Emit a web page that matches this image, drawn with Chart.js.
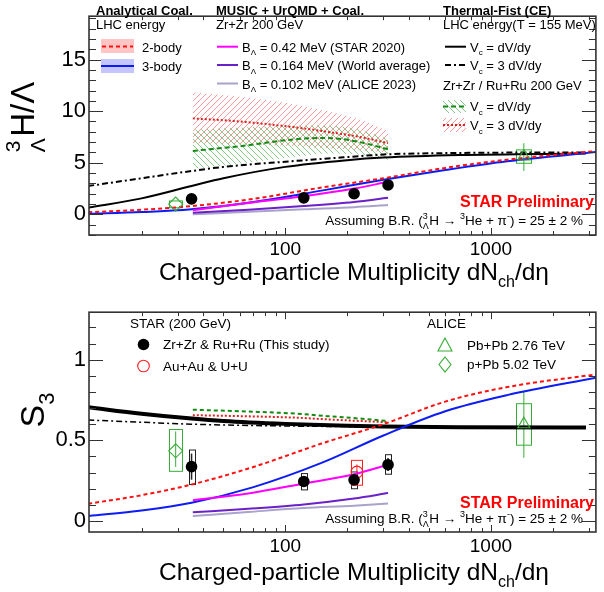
<!DOCTYPE html>
<html>
<head>
<meta charset="utf-8">
<script src="https://cdn.jsdelivr.net/npm/chart.js@4.4.1/dist/chart.umd.min.js"></script>
<style>
  html, body { margin: 0; padding: 0; background: #fff; }
  #wrap { position: relative; width: 604px; height: 592px; }
  .panel { position: absolute; left: 0; width: 604px; height: 296px; }
  #top { top: 0; }
  #bot { top: 296px; }
</style>
</head>
<body>
<div id="wrap">
  <div class="panel" id="top"><canvas id="cTop"></canvas></div>
  <div class="panel" id="bot"><canvas id="cBot"></canvas></div>
</div>
<script>
const FONT = '"Liberation Sans", Arial, Helvetica, sans-serif';

// ---- axes
const X_MIN = 11.1, X_MAX = 3240;
const X_TICKS = [20, 30, 40, 50, 60, 70, 80, 90, 100, 200, 300, 400, 500, 600, 700, 800, 900, 1000, 2000, 3000];
const X_LABELS = [100, 1000];
const TOP_Y_TICKS = [-2, -1, 0, 1, 2, 3, 4, 5, 6, 7, 8, 9, 10, 11, 12, 13, 14, 15, 16, 17, 18, 19];
const TOP_Y_LABELS = [0, 5, 10, 15];
const BOT_Y_TICKS = [0, 0.1, 0.2, 0.3, 0.4, 0.5, 0.6, 0.7, 0.8, 0.9, 1, 1.1, 1.2];
const BOT_Y_LABELS = [0, 0.5, 1];

// ---- STAR data (Zr+Zr & Ru+Ru)
const starX = [35, 123, 216, 316];
const starRatio = [1.5, 1.6, 2.0, 2.85];
const starS3 = [0.337, 0.245, 0.255, 0.349];
const starS3StatLo = [0.256, 0.215, 0.225, 0.31];
const starS3StatHi = [0.418, 0.275, 0.285, 0.39];
const starS3SysLo = [0.226, 0.193, 0.2, 0.29];
const starS3SysHi = [0.44, 0.294, 0.304, 0.411];

// ---- STAR Au+Au & U+U
const auX = [223];
const auS3 = [0.304];
const auS3StatLo = [0.285];
const auS3StatHi = [0.35];
const auS3SysLo = [0.222];
const auS3SysHi = [0.376];

// ---- ALICE
const pbX = [1446];
const pbRatio = [5.6];
const pbRatioStatLo = [4.2], pbRatioStatHi = [6.9];
const pbRatioSysLo = [4.95], pbRatioSysHi = [6.25];
const pbS3 = [0.6];
const pbS3StatLo = [0.392], pbS3StatHi = [0.805];
const pbS3SysLo = [0.47], pbS3SysHi = [0.727];

const ppbX = [29.3];
const ppbRatio = [1.0];
const ppbRatioSysLo = [0.64], ppbRatioSysHi = [1.3];
const ppbS3 = [0.435];
const ppbS3StatLo = [0.335], ppbS3StatHi = [0.555];
const ppbS3SysLo = [0.308], ppbS3SysHi = [0.567];

// ---- Analytical coalescence (LHC energy)
const coalX = [11, 20, 35, 70, 150, 300, 600, 1200, 3300];
const coal2Ratio = [0.2, 0.45, 0.8, 1.5, 2.6, 3.5, 4.5, 5.3, 6.15];
const coal3Ratio = [0.05, 0.22, 0.5, 1.2, 2.3, 3.35, 4.3, 5.15, 6.05];
const coal2S3 = [0.107, 0.16, 0.226, 0.335, 0.48, 0.6, 0.74, 0.83, 0.91];
const coal3S3 = [0.031, 0.065, 0.113, 0.21, 0.36, 0.53, 0.68, 0.78, 0.89];

// ---- MUSIC + UrQMD + Coal. (Zr+Zr 200 GeV)
const musicX = [35.5, 66, 123, 216, 316];
const music042Ratio = [0.4, 1.1, 1.75, 2.5, 3.15];
const music0164Ratio = [0.15, 0.45, 0.8, 1.2, 1.6];
const music0102Ratio = [0.0, 0.25, 0.5, 0.7, 0.9];
const music042S3 = [0.129, 0.171, 0.232, 0.29, 0.349];
const music0164S3 = [0.054, 0.076, 0.103, 0.14, 0.173];
const music0102S3 = [0.031, 0.056, 0.08, 0.095, 0.109];

// ---- Thermal-Fist (CE), LHC energy
const thermX = [11, 20, 35, 50, 100, 200, 300, 700, 2900];
const thermVcRatio = [0.65, 1.55, 2.75, 3.5, 4.6, 5.25, 5.5, 5.75, 5.9];
const therm3VcRatio = [2.75, 3.5, 4.2, 4.6, 5.1, 5.55, 5.8, 5.95, 6.0];
const thermVcS3 = [0.705, 0.665, 0.635, 0.62, 0.602, 0.59, 0.585, 0.581, 0.58];
const therm3VcS3 = [0.626, 0.612, 0.6, 0.595, 0.589, 0.585, 0.583, 0.581, 0.58];

// ---- Thermal-Fist (CE), Zr+Zr / Ru+Ru 200 GeV
const zrX = [35.5, 60, 115, 160, 230, 316];
const zrVcRatio = [6.15, 6.6, 7.3, 7.4, 7.0, 6.3];
const zrVcRatioLo = [4.4, 4.9, 5.6, 5.9, 5.8, 5.3];
const zrVcRatioHi = [8.2, 8.4, 8.6, 8.6, 8.2, 7.3];
const zr3VcRatio = [9.3, 9.0, 8.4, 8.0, 7.5, 6.9];
const zr3VcRatioLo = [6.9, 6.8, 6.6, 6.4, 6.2, 6.0];
const zr3VcRatioHi = [11.8, 11.4, 10.6, 10.0, 9.2, 8.1];
const zrVcS3 = [0.69, 0.68, 0.665, 0.65, 0.635, 0.62];
const zr3VcS3 = [0.656, 0.65, 0.64, 0.63, 0.62, 0.612];

// colours
const RED = '#ff1010', BLUE = '#0c1cf2', MAGENTA = '#ff00ff', PURPLE = '#6a22c8', LAVENDER = '#a9a3cc';
const DKGREEN = '#138a13', GREEN = '#36ad36', DOTRED = '#e02020';

const pts = (xs, ys) => xs.map((x, i) => ({ x, y: ys[i] }));

function hatch(color, dir) {
  const s = 6, c = document.createElement('canvas');
  c.width = s; c.height = s;
  const g = c.getContext('2d');
  g.strokeStyle = color; g.lineWidth = 1;
  g.beginPath();
  if (dir > 0) { g.moveTo(-1, s + 1); g.lineTo(s + 1, -1); }
  else { g.moveTo(-1, -1); g.lineTo(s + 1, s + 1); }
  g.stroke();
  return g.createPattern(c, 'repeat');
}
const greenHatch = hatch('#86c886', -1);
const redHatch = hatch('#f59a9a', 1);

// rich text with sub/superscripts
function drawRich(ctx, x, y, parts, size, opt = {}) {
  const weight = opt.bold ? 'bold ' : '';
  const big = `${weight}${size}px ${FONT}`;
  const small = `${weight}${Math.round(size * 0.64)}px ${FONT}`;
  const segs = [];
  let w = 0;
  for (const p of parts) {
    if (typeof p === 'string') {
      ctx.font = big;
      segs.push({ t: p, f: big, dx: w, dy: 0 });
      w += ctx.measureText(p).width;
    } else if (p.sub || p.sup) {
      ctx.font = small;
      const t = p.sub || p.sup;
      segs.push({ t, f: small, dx: w, dy: p.sub ? size * 0.28 : -size * 0.42 });
      w += ctx.measureText(t).width;
    } else if (p.pre) {
      ctx.font = small;
      const a = ctx.measureText(p.pre[0]).width, b = ctx.measureText(p.pre[1]).width;
      segs.push({ t: p.pre[0], f: small, dx: w, dy: -size * 0.42 });
      segs.push({ t: p.pre[1], f: small, dx: w, dy: size * 0.32 });
      w += Math.max(a, b) + size * 0.04;
    }
  }
  let x0 = x;
  if (opt.align === 'right') x0 = x - w;
  else if (opt.align === 'center') x0 = x - w / 2;
  ctx.save();
  ctx.fillStyle = opt.color || '#000';
  ctx.textAlign = 'left';
  ctx.textBaseline = 'alphabetic';
  segs.forEach(s => { ctx.font = s.f; ctx.fillText(s.t, x0 + s.dx, y + s.dy); });
  ctx.restore();
  return w;
}

function seg(ctx, x1, x2, y, color, width, dash) {
  ctx.save();
  ctx.strokeStyle = color; ctx.lineWidth = width; ctx.setLineDash(dash || []);
  ctx.beginPath(); ctx.moveTo(x1, y); ctx.lineTo(x2, y); ctx.stroke();
  ctx.restore();
}

function box(ctx, x, y, w, h, fill) {
  ctx.save(); ctx.fillStyle = fill; ctx.fillRect(x, y, w, h); ctx.restore();
}

// ROOT style frame with inward ticks on all four sides
const rootFrame = {
  id: 'rootFrame',
  afterDatasetsDraw(chart) {
    const { ctx, chartArea: a, scales: { x, y } } = chart;
    ctx.save();
    ctx.strokeStyle = '#333';
    ctx.lineWidth = 1;
    ctx.beginPath();
    x.ticks.forEach(t => {
      const px = Math.round(x.getPixelForValue(t.value)) + 0.5;
      const len = t.major ? 7 : 4;
      ctx.moveTo(px, a.bottom); ctx.lineTo(px, a.bottom - len);
      ctx.moveTo(px, a.top); ctx.lineTo(px, a.top + len);
    });
    y.ticks.forEach(t => {
      const py = Math.round(y.getPixelForValue(t.value)) + 0.5;
      const len = t.major ? 14 : 7;
      ctx.moveTo(a.left, py); ctx.lineTo(a.left + len, py);
      ctx.moveTo(a.right, py); ctx.lineTo(a.right - len, py);
    });
    ctx.stroke();
    ctx.lineWidth = 1.6;
    ctx.strokeRect(a.left, a.top, a.width, a.height);
    ctx.restore();
  }
};

// systematic boxes and statistical error bars
const errors = {
  id: 'errors',
  beforeDatasetsDraw(chart) {
    const { ctx, scales: { y } } = chart;
    ctx.save();
    chart.data.datasets.forEach((ds, i) => {
      if (!ds.sysLo && !ds.statLo) return;
      const meta = chart.getDatasetMeta(i);
      meta.data.forEach((pt, j) => {
        ctx.strokeStyle = ds.errColor;
        ctx.lineWidth = 1;
        if (ds.sysLo) {
          const y1 = y.getPixelForValue(ds.sysHi[j]), y2 = y.getPixelForValue(ds.sysLo[j]);
          const hw = ds.boxW / 2;
          ctx.strokeRect(Math.round(pt.x - hw) + 0.5, y1, ds.boxW, y2 - y1);
        }
        if (ds.statLo) {
          ctx.lineWidth = ds.statW || 1;
          ctx.beginPath();
          ctx.moveTo(pt.x, y.getPixelForValue(ds.statHi[j]));
          ctx.lineTo(pt.x, y.getPixelForValue(ds.statLo[j]));
          ctx.stroke();
        }
      });
    });
    ctx.restore();
  }
};

function curve(data, color, width, dash, order) {
  return {
    data, borderColor: color, borderWidth: width, borderDash: dash || [],
    pointRadius: 0, fill: false, cubicInterpolationMode: 'monotone', order
  };
}

function band(hi, lo, pattern, order) {
  return [
    { data: hi, borderWidth: 0, pointRadius: 0, fill: '+1', backgroundColor: pattern,
      cubicInterpolationMode: 'monotone', order },
    { data: lo, borderWidth: 0, pointRadius: 0, fill: false,
      cubicInterpolationMode: 'monotone', order }
  ];
}

function marker(data, style, radius, color, filled, order, extra) {
  return Object.assign({
    data, showLine: false, pointStyle: style, pointRadius: radius,
    pointBorderColor: color, pointBackgroundColor: filled ? color : 'rgba(0,0,0,0)',
    pointBorderWidth: filled ? 0 : 1.1, order
  }, extra || {});
}

function axes(yTicks, yLabels, yMin, yMax, xHeight) {
  return {
    x: {
      type: 'logarithmic', min: X_MIN, max: X_MAX,
      grid: { display: false, drawTicks: false }, border: { display: false },
      afterBuildTicks: s => { s.ticks = X_TICKS.map(v => ({ value: v, major: X_LABELS.includes(v) })); },
      ticks: {
        autoSkip: false, maxRotation: 0, minRotation: 0, padding: 3, color: '#000',
        font: { family: FONT, size: 19 },
        callback: v => X_LABELS.includes(v) ? String(v) : ''
      },
      afterFit: s => { s.height = xHeight; }
    },
    y: {
      type: 'linear', min: yMin, max: yMax,
      grid: { display: false, drawTicks: false }, border: { display: false },
      afterBuildTicks: s => { s.ticks = yTicks.map(v => ({ value: v, major: yLabels.includes(v) })); },
      ticks: {
        autoSkip: false, padding: 3, color: '#000',
        font: { family: FONT, size: 22 },
        callback: v => yLabels.includes(v) ? String(v) : ''
      },
      afterFit: s => { s.width = 89; }
    }
  };
}

function xTitle(ctx, y) {
  drawRich(ctx, 354, y, ['Charged-particle Multiplicity dN', { sub: 'ch' }, '/dη'], 24.5, { align: 'center' });
}

const assumeText = ['Assuming B.R. (', { pre: ['3', 'Λ'] }, 'H → ', { sup: '3' }, 'He + π', { sup: '-' }, ') = 25 ± 2 %'];
const LS = 13; // legend text size

// ---- top panel decorations
const decorTop = {
  id: 'decorTop',
  afterDraw(chart) {
    const ctx = chart.ctx;
    // y title
    ctx.save();
    ctx.translate(34, 117);
    ctx.rotate(-Math.PI / 2);
    drawRich(ctx, 0, 0, [{ pre: ['3', 'Λ'] }, 'H/Λ'], 33, { align: 'center' });
    ctx.restore();
    xTitle(ctx, 280);

    // Analytical Coal.
    drawRich(ctx, 96, 15, ['Analytical Coal.'], 13, { bold: true });
    drawRich(ctx, 96, 29, ['LHC energy'], LS);
    box(ctx, 101, 39, 33, 14, '#ffc4c4');
    seg(ctx, 102, 133, 46.5, RED, 2, [4, 3]);
    drawRich(ctx, 142, 51.5, ['2-body'], LS);
    box(ctx, 101, 59, 33, 14, '#c6c6ff');
    seg(ctx, 101, 134, 66, BLUE, 2);
    drawRich(ctx, 142, 71, ['3-body'], LS);

    // MUSIC + UrQMD + Coal.
    drawRich(ctx, 216, 15, ['MUSIC + UrQMD + Coal.'], 13, { bold: true });
    drawRich(ctx, 216, 29, ['Zr+Zr 200 GeV'], LS);
    seg(ctx, 217, 238, 46.7, MAGENTA, 2);
    drawRich(ctx, 242, 51.5, ['B', { sub: 'Λ' }, ' = 0.42 MeV (STAR 2020)'], LS);
    seg(ctx, 217, 238, 65, PURPLE, 2);
    drawRich(ctx, 242, 70, ['B', { sub: 'Λ' }, ' = 0.164 MeV (World average)'], LS);
    seg(ctx, 217, 238, 83.5, LAVENDER, 2);
    drawRich(ctx, 242, 88.5, ['B', { sub: 'Λ' }, ' = 0.102 MeV (ALICE 2023)'], LS);

    // Thermal-Fist
    drawRich(ctx, 443, 15, ['Thermal-Fist (CE)'], 13, { bold: true });
    drawRich(ctx, 443, 29, ['LHC energy(T = 155 MeV)'], LS);
    seg(ctx, 445, 466, 46.7, '#000', 2);
    drawRich(ctx, 470, 51.5, ['V', { sub: 'c' }, ' = dV/dy'], LS);
    seg(ctx, 445, 466, 65, '#000', 2, [6, 3, 2, 3]);
    drawRich(ctx, 470, 70, ['V', { sub: 'c' }, ' = 3 dV/dy'], LS);
    drawRich(ctx, 443, 90, ['Zr+Zr / Ru+Ru 200 GeV'], LS);
    box(ctx, 443, 100, 23, 13, greenHatch);
    seg(ctx, 443, 466, 106.5, DKGREEN, 2, [5, 3]);
    drawRich(ctx, 470, 111, ['V', { sub: 'c' }, ' = dV/dy'], LS);
    box(ctx, 443, 118, 23, 14, redHatch);
    seg(ctx, 443, 466, 125, DOTRED, 2, [2, 2]);
    drawRich(ctx, 470, 130, ['V', { sub: 'c' }, ' = 3 dV/dy'], LS);

    drawRich(ctx, 594, 207, ['STAR Preliminary'], 16, { bold: true, color: '#ff0000', align: 'right' });
    drawRich(ctx, 583, 224.5, assumeText, 13.5, { align: 'right' });
  }
};

// ---- bottom panel decorations
const decorBot = {
  id: 'decorBot',
  afterDraw(chart) {
    const ctx = chart.ctx;
    ctx.save();
    ctx.translate(44, 114);
    ctx.rotate(-Math.PI / 2);
    drawRich(ctx, 0, 0, ['S', { sub: '3' }], 34, { align: 'center' });
    ctx.restore();
    xTitle(ctx, 284);

    drawRich(ctx, 130, 32, ['STAR (200 GeV)'], 13.5);
    ctx.save();
    ctx.fillStyle = '#000';
    ctx.beginPath(); ctx.arc(143.5, 48.5, 5.8, 0, Math.PI * 2); ctx.fill();
    ctx.strokeStyle = '#ff2020'; ctx.lineWidth = 1.1;
    ctx.beginPath(); ctx.arc(143.5, 70, 5.8, 0, Math.PI * 2); ctx.stroke();
    ctx.strokeStyle = GREEN;
    ctx.beginPath(); ctx.moveTo(445, 42); ctx.lineTo(452, 55); ctx.lineTo(438, 55); ctx.closePath(); ctx.stroke();
    ctx.beginPath(); ctx.moveTo(445, 61); ctx.lineTo(451, 68.5); ctx.lineTo(445, 76); ctx.lineTo(439, 68.5); ctx.closePath(); ctx.stroke();
    ctx.restore();
    drawRich(ctx, 163, 53, ['Zr+Zr & Ru+Ru (This study)'], 13.5);
    drawRich(ctx, 163, 75, ['Au+Au & U+U'], 13.5);
    drawRich(ctx, 427, 32, ['ALICE'], 13.5);
    drawRich(ctx, 467, 54, ['Pb+Pb 2.76 TeV'], 13.5);
    drawRich(ctx, 467, 73, ['p+Pb 5.02 TeV'], 13.5);

    drawRich(ctx, 594, 212, ['STAR Preliminary'], 16, { bold: true, color: '#ff0000', align: 'right' });
    drawRich(ctx, 583, 226.5, assumeText, 13.5, { align: 'right' });
  }
};

const baseOptions = (scales, padTop) => ({
  responsive: true,
  maintainAspectRatio: false,
  animation: false,
  devicePixelRatio: 1,
  layout: { padding: { left: 0, right: 3, top: padTop, bottom: 0 } },
  plugins: { legend: { display: false }, tooltip: { enabled: false } },
  scales
});

// ---- top chart: hypertriton / Lambda ratio
new Chart(document.getElementById('cTop'), {
  type: 'line',
  data: {
    datasets: [
      marker(pts(starX, starRatio), 'circle', 5.8, '#000', true, 0),
      marker(pts(pbX, pbRatio), 'triangle', 7, GREEN, false, 1,
        { statLo: pbRatioStatLo, statHi: pbRatioStatHi, sysLo: pbRatioSysLo, sysHi: pbRatioSysHi, boxW: 15, errColor: GREEN }),
      marker(pts(ppbX, ppbRatio), 'rectRot', 7, GREEN, false, 1,
        { sysLo: ppbRatioSysLo, sysHi: ppbRatioSysHi, boxW: 13, errColor: GREEN }),
      curve(pts(musicX, music042Ratio), MAGENTA, 2, null, 2),
      curve(pts(musicX, music0164Ratio), PURPLE, 2, null, 2),
      curve(pts(musicX, music0102Ratio), LAVENDER, 2, null, 2),
      curve(pts(coalX, coal2Ratio), RED, 2, [4, 3], 3),
      curve(pts(coalX, coal3Ratio), BLUE, 2, null, 3),
      curve(pts(thermX, thermVcRatio), '#000', 2, null, 4),
      curve(pts(thermX, therm3VcRatio), '#000', 2, [6, 3, 2, 3], 4),
      curve(pts(zrX, zrVcRatio), DKGREEN, 2, [5, 3], 5),
      curve(pts(zrX, zr3VcRatio), DOTRED, 2, [2, 2], 5),
      ...band(pts(zrX, zrVcRatioHi), pts(zrX, zrVcRatioLo), greenHatch, 7),
      ...band(pts(zrX, zr3VcRatioHi), pts(zrX, zr3VcRatioLo), redHatch, 8)
    ]
  },
  options: baseOptions(axes(TOP_Y_TICKS, TOP_Y_LABELS, -2, 19.2, 61), 2),
  plugins: [errors, rootFrame, decorTop]
});

// ---- bottom chart: strangeness population factor S3
new Chart(document.getElementById('cBot'), {
  type: 'line',
  data: {
    datasets: [
      marker(pts(starX, starS3), 'circle', 5.8, '#000', true, 0,
        { statLo: starS3StatLo, statHi: starS3StatHi, sysLo: starS3SysLo, sysHi: starS3SysHi, boxW: 6, errColor: '#222', statW: 1.5 }),
      marker(pts(auX, auS3), 'circle', 5.8, '#ff2020', false, 0,
        { statLo: auS3StatLo, statHi: auS3StatHi, sysLo: auS3SysLo, sysHi: auS3SysHi, boxW: 11, errColor: '#ff2020' }),
      marker(pts(pbX, pbS3), 'triangle', 7, GREEN, false, 1,
        { statLo: pbS3StatLo, statHi: pbS3StatHi, sysLo: pbS3SysLo, sysHi: pbS3SysHi, boxW: 15, errColor: GREEN }),
      marker(pts(ppbX, ppbS3), 'rectRot', 7, GREEN, false, 1,
        { statLo: ppbS3StatLo, statHi: ppbS3StatHi, sysLo: ppbS3SysLo, sysHi: ppbS3SysHi, boxW: 13, errColor: GREEN }),
      curve(pts(musicX, music042S3), MAGENTA, 2, null, 2),
      curve(pts(musicX, music0164S3), PURPLE, 2, null, 2),
      curve(pts(musicX, music0102S3), LAVENDER, 2, null, 2),
      curve(pts(coalX, coal2S3), RED, 2, [4, 3], 3),
      curve(pts(coalX, coal3S3), BLUE, 2, null, 3),
      curve(pts(thermX, thermVcS3), '#000', 4, null, 4),
      curve(pts(thermX, therm3VcS3), '#000', 1.5, [6, 3, 2, 3], 4),
      curve(pts(zrX, zrVcS3), DKGREEN, 2, [4, 3], 5),
      curve(pts(zrX, zr3VcS3), DOTRED, 2, [2, 2], 5)
    ]
  },
  options: baseOptions(axes(BOT_Y_TICKS, BOT_Y_LABELS, -0.068, 1.294, 60), 3),
  plugins: [errors, rootFrame, decorBot]
});
</script>
</body>
</html>
